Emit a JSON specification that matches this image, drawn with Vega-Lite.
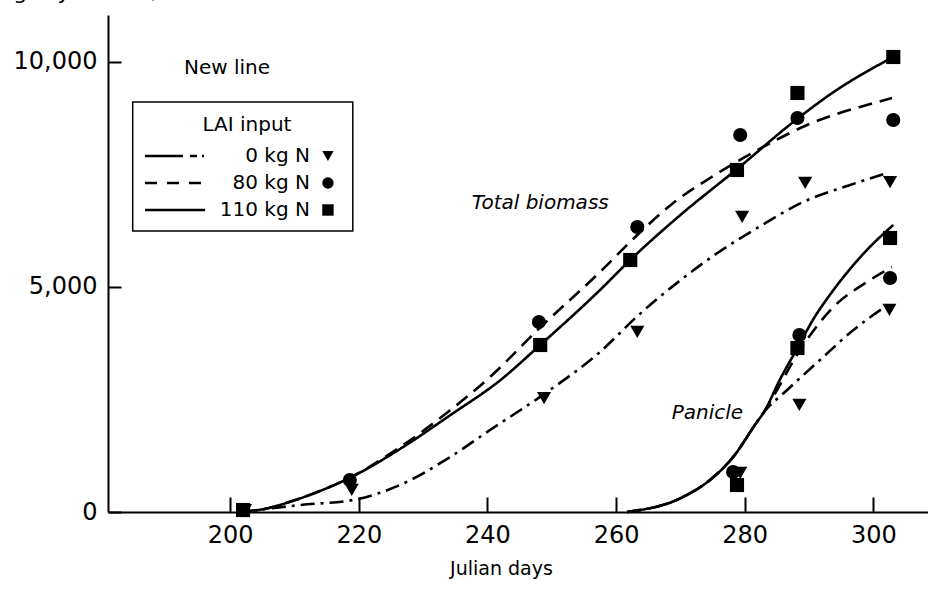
{
  "$schema": "https://vega.github.io/schema/vega-lite/v6.json",
  "width": 820,
  "height": 497,
  "autosize": {"type": "none"},
  "padding": {"left": 108, "top": 15, "right": 0, "bottom": 81},
  "background": "white",
  "config": {
    "view": {"stroke": null},
    "font": "DejaVu Sans",
    "axis": {"grid": false, "domainColor": "black", "domainWidth": 2, "tickColor": "black", "tickWidth": 2, "labelColor": "black", "titleColor": "black", "titleFontWeight": "normal"}
  },
  "datasets": {
    "lines": [
      {"part": "total", "series": "110 kg N", "day": 202.0, "value": 0},
      {"part": "total", "series": "110 kg N", "day": 206.0, "value": 90},
      {"part": "total", "series": "110 kg N", "day": 210.0, "value": 260},
      {"part": "total", "series": "110 kg N", "day": 214.0, "value": 470},
      {"part": "total", "series": "110 kg N", "day": 218.6, "value": 760},
      {"part": "total", "series": "110 kg N", "day": 226.4, "value": 1400},
      {"part": "total", "series": "110 kg N", "day": 234.2, "value": 2150},
      {"part": "total", "series": "110 kg N", "day": 242.0, "value": 2930},
      {"part": "total", "series": "110 kg N", "day": 248.2, "value": 3711},
      {"part": "total", "series": "110 kg N", "day": 257.5, "value": 4933},
      {"part": "total", "series": "110 kg N", "day": 262.2, "value": 5600},
      {"part": "total", "series": "110 kg N", "day": 270.0, "value": 6600},
      {"part": "total", "series": "110 kg N", "day": 278.8, "value": 7620},
      {"part": "total", "series": "110 kg N", "day": 288.2, "value": 8740},
      {"part": "total", "series": "110 kg N", "day": 293.8, "value": 9330},
      {"part": "total", "series": "110 kg N", "day": 303.1, "value": 10111},
      {"part": "total", "series": "80 kg N", "day": 202.0, "value": 0},
      {"part": "total", "series": "80 kg N", "day": 206.0, "value": 90},
      {"part": "total", "series": "80 kg N", "day": 210.0, "value": 260},
      {"part": "total", "series": "80 kg N", "day": 214.0, "value": 470},
      {"part": "total", "series": "80 kg N", "day": 218.6, "value": 760},
      {"part": "total", "series": "80 kg N", "day": 226.4, "value": 1440},
      {"part": "total", "series": "80 kg N", "day": 234.2, "value": 2260},
      {"part": "total", "series": "80 kg N", "day": 240.4, "value": 3000},
      {"part": "total", "series": "80 kg N", "day": 248.2, "value": 4100},
      {"part": "total", "series": "80 kg N", "day": 257.5, "value": 5333},
      {"part": "total", "series": "80 kg N", "day": 263.3, "value": 6156},
      {"part": "total", "series": "80 kg N", "day": 268.9, "value": 6867},
      {"part": "total", "series": "80 kg N", "day": 274.6, "value": 7422},
      {"part": "total", "series": "80 kg N", "day": 279.8, "value": 7867},
      {"part": "total", "series": "80 kg N", "day": 285.5, "value": 8311},
      {"part": "total", "series": "80 kg N", "day": 289.7, "value": 8600},
      {"part": "total", "series": "80 kg N", "day": 293.8, "value": 8822},
      {"part": "total", "series": "80 kg N", "day": 299.0, "value": 9044},
      {"part": "total", "series": "80 kg N", "day": 302.9, "value": 9200},
      {"part": "total", "series": "0 kg N", "day": 202.0, "value": 0},
      {"part": "total", "series": "0 kg N", "day": 210.9, "value": 156},
      {"part": "total", "series": "0 kg N", "day": 219.1, "value": 267},
      {"part": "total", "series": "0 kg N", "day": 226.4, "value": 600},
      {"part": "total", "series": "0 kg N", "day": 234.2, "value": 1222},
      {"part": "total", "series": "0 kg N", "day": 240.4, "value": 1822},
      {"part": "total", "series": "0 kg N", "day": 248.8, "value": 2620},
      {"part": "total", "series": "0 kg N", "day": 257.5, "value": 3556},
      {"part": "total", "series": "0 kg N", "day": 263.3, "value": 4350},
      {"part": "total", "series": "0 kg N", "day": 270.0, "value": 5150},
      {"part": "total", "series": "0 kg N", "day": 275.7, "value": 5750},
      {"part": "total", "series": "0 kg N", "day": 282.4, "value": 6350},
      {"part": "total", "series": "0 kg N", "day": 289.1, "value": 6889},
      {"part": "total", "series": "0 kg N", "day": 296.4, "value": 7267},
      {"part": "total", "series": "0 kg N", "day": 302.2, "value": 7533},
      {"part": "panicle", "series": "110 kg N", "day": 261.7, "value": 0},
      {"part": "panicle", "series": "110 kg N", "day": 270.4, "value": 333},
      {"part": "panicle", "series": "110 kg N", "day": 274.6, "value": 711},
      {"part": "panicle", "series": "110 kg N", "day": 278.2, "value": 1222},
      {"part": "panicle", "series": "110 kg N", "day": 281.9, "value": 2000},
      {"part": "panicle", "series": "110 kg N", "day": 282.9, "value": 2200},
      {"part": "panicle", "series": "110 kg N", "day": 285.5, "value": 2950},
      {"part": "panicle", "series": "110 kg N", "day": 288.2, "value": 3644},
      {"part": "panicle", "series": "110 kg N", "day": 290.6, "value": 4267},
      {"part": "panicle", "series": "110 kg N", "day": 293.8, "value": 4933},
      {"part": "panicle", "series": "110 kg N", "day": 299.0, "value": 5822},
      {"part": "panicle", "series": "110 kg N", "day": 303.1, "value": 6378},
      {"part": "panicle", "series": "80 kg N", "day": 261.7, "value": 0},
      {"part": "panicle", "series": "80 kg N", "day": 270.4, "value": 333},
      {"part": "panicle", "series": "80 kg N", "day": 274.6, "value": 711},
      {"part": "panicle", "series": "80 kg N", "day": 278.2, "value": 1222},
      {"part": "panicle", "series": "80 kg N", "day": 281.9, "value": 2000},
      {"part": "panicle", "series": "80 kg N", "day": 282.9, "value": 2200},
      {"part": "panicle", "series": "80 kg N", "day": 284.4, "value": 2556},
      {"part": "panicle", "series": "80 kg N", "day": 288.6, "value": 3600},
      {"part": "panicle", "series": "80 kg N", "day": 293.8, "value": 4556},
      {"part": "panicle", "series": "80 kg N", "day": 299.0, "value": 5111},
      {"part": "panicle", "series": "80 kg N", "day": 302.9, "value": 5444},
      {"part": "panicle", "series": "0 kg N", "day": 261.7, "value": 0},
      {"part": "panicle", "series": "0 kg N", "day": 270.4, "value": 333},
      {"part": "panicle", "series": "0 kg N", "day": 274.6, "value": 711},
      {"part": "panicle", "series": "0 kg N", "day": 278.2, "value": 1222},
      {"part": "panicle", "series": "0 kg N", "day": 281.9, "value": 2000},
      {"part": "panicle", "series": "0 kg N", "day": 282.9, "value": 2200},
      {"part": "panicle", "series": "0 kg N", "day": 286.6, "value": 2711},
      {"part": "panicle", "series": "0 kg N", "day": 291.7, "value": 3378},
      {"part": "panicle", "series": "0 kg N", "day": 296.9, "value": 4044},
      {"part": "panicle", "series": "0 kg N", "day": 302.2, "value": 4600}
    ],
    "points": [
      {"part": "total", "series": "0 kg N", "day": 202.3, "value": 44},
      {"part": "total", "series": "0 kg N", "day": 218.9, "value": 489},
      {"part": "total", "series": "0 kg N", "day": 248.8, "value": 2533},
      {"part": "total", "series": "0 kg N", "day": 263.3, "value": 4000},
      {"part": "total", "series": "0 kg N", "day": 279.6, "value": 6556},
      {"part": "total", "series": "0 kg N", "day": 289.4, "value": 7311},
      {"part": "total", "series": "0 kg N", "day": 302.6, "value": 7333},
      {"part": "panicle", "series": "0 kg N", "day": 279.3, "value": 867},
      {"part": "panicle", "series": "0 kg N", "day": 288.5, "value": 2378},
      {"part": "panicle", "series": "0 kg N", "day": 302.5, "value": 4489},
      {"part": "total", "series": "80 kg N", "day": 218.6, "value": 711},
      {"part": "total", "series": "80 kg N", "day": 248.0, "value": 4222},
      {"part": "total", "series": "80 kg N", "day": 263.3, "value": 6333},
      {"part": "total", "series": "80 kg N", "day": 279.3, "value": 8378},
      {"part": "total", "series": "80 kg N", "day": 288.2, "value": 8756},
      {"part": "total", "series": "80 kg N", "day": 303.1, "value": 8711},
      {"part": "panicle", "series": "80 kg N", "day": 278.2, "value": 889},
      {"part": "panicle", "series": "80 kg N", "day": 288.5, "value": 3933},
      {"part": "panicle", "series": "80 kg N", "day": 302.6, "value": 5200},
      {"part": "total", "series": "110 kg N", "day": 202.0, "value": 44},
      {"part": "total", "series": "110 kg N", "day": 248.2, "value": 3711},
      {"part": "total", "series": "110 kg N", "day": 262.2, "value": 5600},
      {"part": "total", "series": "110 kg N", "day": 278.8, "value": 7600},
      {"part": "total", "series": "110 kg N", "day": 288.2, "value": 9311},
      {"part": "total", "series": "110 kg N", "day": 303.1, "value": 10111},
      {"part": "panicle", "series": "110 kg N", "day": 278.8, "value": 600},
      {"part": "panicle", "series": "110 kg N", "day": 288.2, "value": 3644},
      {"part": "panicle", "series": "110 kg N", "day": 302.6, "value": 6089}
    ],
    "legendBox": [{"day": 184.84, "day2": 219.06, "value": 9111, "value2": 6244}],
    "legendLines": [
      {"series": "L0", "day": 186.75, "day2": 196.1, "value": 7911},
      {"series": "L80", "day": 186.75, "day2": 196.1, "value": 7311},
      {"series": "L110", "day": 186.75, "day2": 196.1, "value": 6711}
    ],
    "legendLabels": [
      {"label": "0 kg N", "day": 212.4, "value": 7911},
      {"label": "80 kg N", "day": 212.4, "value": 7311},
      {"label": "110 kg N", "day": 212.4, "value": 6711}
    ],
    "legendSymbols": [
      {"series": "0 kg N", "day": 215.2, "value": 7911},
      {"series": "80 kg N", "day": 215.2, "value": 7311},
      {"series": "110 kg N", "day": 215.2, "value": 6711}
    ],
    "plainText": [
      {"label": "LAI input", "day": 202.6, "value": 8600},
      {"label": "New line", "day": 199.5, "value": 9867}
    ],
    "italicText": [
      {"label": "Total biomass", "day": 248.2, "value": 6867},
      {"label": "Panicle", "day": 274.2, "value": 2200}
    ]
  },
  "encoding": {
    "x": {"field": "day", "type": "quantitative", "scale": {"domain": [181, 308.5], "nice": false, "zero": false},
      "axis": {"values": [200, 220, 240, 260, 280, 300], "tickSize": -15, "labelPadding": 26, "labelFontSize": 24, "labelBaseline": "top", "title": "Julian days", "titleFontSize": 19, "titleX": 393, "titleY": 56, "titleBaseline": "middle", "titleAnchor": "start", "titleAlign": "center"}},
    "y": {"field": "value", "type": "quantitative", "scale": {"domain": [0, 11044], "nice": false},
      "axis": {"values": [0, 5000, 10000], "format": ",.0f", "tickSize": -13, "labelPadding": 24, "labelFontSize": 24, "title": "kg dry matter/ha", "titleAngle": 0, "titleAlign": "left", "titleBaseline": "alphabetic", "titleX": -108, "titleY": -17, "titleFontSize": 22}}
  },
  "layer": [
    {
      "data": {"name": "lines"},
      "mark": {"type": "line", "color": "black", "strokeWidth": 2.6, "interpolate": "monotone"},
      "encoding": {
        "detail": {"field": "part"},
        "strokeDash": {"field": "series", "type": "nominal", "legend": null,
          "scale": {"domain": ["0 kg N", "80 kg N", "110 kg N", "L0", "L80", "L110"],
            "range": [[14, 6, 3, 6], [14, 8], [1, 0], [38, 7, 7, 5, 2, 100], [12, 10], [1, 0]]}}
      }
    },
    {
      "mark": {"type": "rule", "color": "black", "strokeWidth": 2},
      "encoding": {"x": null, "y": {"datum": 11044}}
    },
    {
      "data": {"name": "points"},
      "mark": {"type": "point", "filled": true, "color": "black", "opacity": 1, "size": 200},
      "encoding": {
        "shape": {"field": "series", "type": "nominal", "legend": null,
          "scale": {"domain": ["0 kg N", "80 kg N", "110 kg N"], "range": ["triangle-down", "circle", "square"]}}
      }
    },
    {
      "data": {"name": "legendBox"},
      "mark": {"type": "rect", "fill": "white", "stroke": "black", "strokeWidth": 1.5},
      "encoding": {"x2": {"field": "day2"}, "y2": {"field": "value2"}}
    },
    {
      "data": {"name": "legendLines"},
      "mark": {"type": "rule", "color": "black", "strokeWidth": 2.6},
      "encoding": {
        "x2": {"field": "day2"},
        "strokeDash": {"field": "series", "type": "nominal", "legend": null}
      }
    },
    {
      "data": {"name": "legendLabels"},
      "mark": {"type": "text", "align": "right", "baseline": "middle", "fontSize": 20, "color": "black"},
      "encoding": {"text": {"field": "label"}}
    },
    {
      "data": {"name": "legendSymbols"},
      "mark": {"type": "point", "filled": true, "color": "black", "opacity": 1, "size": 130},
      "encoding": {"shape": {"field": "series", "type": "nominal", "legend": null}}
    },
    {
      "data": {"name": "plainText"},
      "mark": {"type": "text", "align": "center", "baseline": "middle", "fontSize": 20, "color": "black"},
      "encoding": {"text": {"field": "label"}}
    },
    {
      "data": {"name": "italicText"},
      "mark": {"type": "text", "align": "center", "baseline": "middle", "fontSize": 20, "fontStyle": "italic", "color": "black"},
      "encoding": {"text": {"field": "label"}}
    }
  ]
}
